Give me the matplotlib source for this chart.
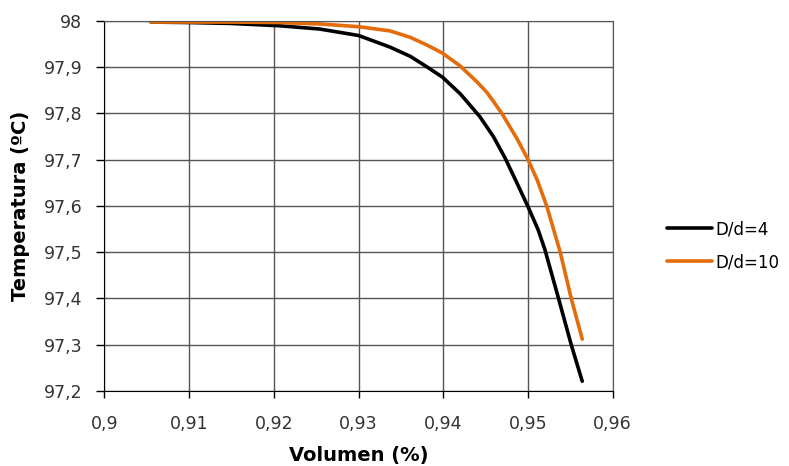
import matplotlib
matplotlib.use('Agg')
import matplotlib.pyplot as plt
from matplotlib.ticker import FuncFormatter

# Curves
vol_d4 = [0.9055, 0.91, 0.915, 0.9207, 0.9254, 0.93, 0.9337, 0.9361, 0.938, 0.9399,
          0.942, 0.9443, 0.9459, 0.9473, 0.9487, 0.95, 0.9512, 0.952, 0.9536, 0.9551, 0.9564]
temp_d4 = [97.997, 97.996, 97.994, 97.989, 97.982, 97.968, 97.943, 97.923, 97.901, 97.878,
           97.842, 97.793, 97.750, 97.703, 97.649, 97.598, 97.548, 97.505, 97.40, 97.30, 97.221]

vol_d10 = [0.9055, 0.91, 0.915, 0.9207, 0.9254, 0.93, 0.9337, 0.9361, 0.938, 0.9399,
           0.942, 0.9439, 0.9451, 0.9459, 0.9469, 0.9487, 0.95, 0.9511, 0.9522, 0.9538, 0.9551, 0.9564]
temp_d10 = [97.997, 97.997, 97.997, 97.996, 97.993, 97.987, 97.978, 97.964, 97.948, 97.930,
            97.902, 97.869, 97.846, 97.826, 97.80, 97.745, 97.70, 97.655, 97.60, 97.50, 97.40, 97.312]

labels = ['D/d=4', 'D/d=10']
x_ticks = [0.9, 0.91, 0.92, 0.93, 0.94, 0.95, 0.96]
y_ticks = [97.2, 97.3, 97.4, 97.5, 97.6, 97.7, 97.8, 97.9, 98.0]

plt.rcParams['font.family'] = ['DejaVu Sans']

fig = plt.figure(figsize=(7.89, 4.66), dpi=100)
ax = fig.add_axes([0.1324, 0.161, 0.6442, 0.7946])

ax.plot(vol_d4, temp_d4, color='black', lw=2.6, label=labels[0], solid_capstyle='round')
ax.plot(vol_d10, temp_d10, color='#E46C0A', lw=2.6, label=labels[1], solid_capstyle='round')

ax.set_xlim(0.9, 0.96)
ax.set_ylim(97.2, 98.0)
ax.set_xticks(x_ticks)
ax.set_yticks(y_ticks)

comma = FuncFormatter(lambda v, p: ('%g' % round(v, 3)).replace('.', ','))
ax.xaxis.set_major_formatter(comma)
ax.yaxis.set_major_formatter(comma)

ax.grid(True, color='#555555', lw=1)
ax.set_axisbelow(True)
for s in ['top', 'right']:
    ax.spines[s].set_color('#555555')
for s in ['left', 'bottom']:
    ax.spines[s].set_color('black')
ax.tick_params(direction='out', width=1, labelsize=12.5, labelcolor='#333333')
ax.tick_params(axis='x', length=5, pad=12)
ax.tick_params(axis='y', length=6, pad=10)

ax.set_xlabel('Volumen (%)', fontsize=14, fontweight='bold')
ax.set_ylabel('Temperatura (ºC)', fontsize=14, fontweight='bold')
ax.xaxis.set_label_coords(0.5, -0.148)
ax.yaxis.set_label_coords(-0.147, 0.5)

fig.legend(loc='center left', bbox_to_anchor=(0.826, 0.473), frameon=False,
           fontsize=12, handlelength=2.7, handletextpad=0.2, labelspacing=0.9)

fig.savefig('out.png', dpi=100)
